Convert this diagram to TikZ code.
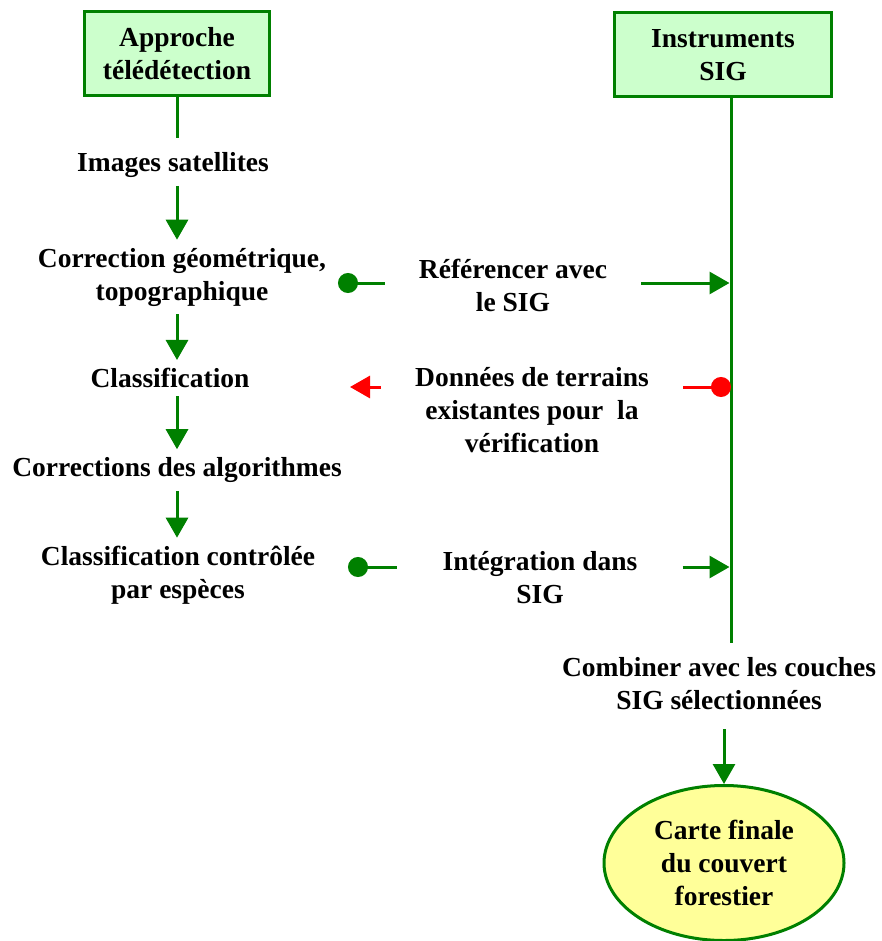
\documentclass[tikz,border=0pt]{standalone}
\usepackage{fontspec}
\setmainfont{Liberation Serif}
\usetikzlibrary{arrows.meta, positioning, shapes.geometric}
\definecolor{vert}{RGB}{0,128,0}
\definecolor{vertclair}{RGB}{204,255,204}
\definecolor{jaune}{RGB}{255,255,153}

\begin{document}
\begin{tikzpicture}[x=1pt,y=-1pt,
  every node/.style={font=\fontsize{27.5}{33}\selectfont\bfseries, align=center, inner sep=8pt},
  titre/.style={draw=vert, line width=3pt, fill=vertclair, minimum height=84pt},
  lien/.style={inner xsep=34pt},
  trait/.style={vert, line width=3pt},
  fleche/.style={trait, -{Triangle[length=20pt,width=22pt]}},
  point/.style={trait, {Circle[length=20pt]}-}]
  \useasboundingbox (0,0) rectangle (881,941);
  \node[titre, minimum width=185pt] (appr) at (177,54) {Approche\\télédétection};
  \node[titre, minimum width=217pt] (sig) at (723,55) {Instruments\\SIG};
  \coordinate (axe) at (731,0);
  \node (img) at (173,165) {Images satellites};
  \node (corr) at (182,277) {Correction géométrique,\\topographique};
  \node (class) at (170,378) {Classification};
  \node (algo) at (177,470) {Corrections des algorithmes};
  \node (ctrl) at (178,575) {Classification contrôlée\\par espèces};
  \node (comb) at (719,684) {Combiner avec les couches\\SIG sélectionnées};
  \node[ellipse, draw=vert, line width=3pt, fill=jaune, minimum width=240pt, minimum height=155pt, inner sep=0pt] (carte) at (724,863) {Carte finale\\du couvert\\forestier};
  \node[lien] (ref) at (513,285) {Référencer avec\\le SIG};
  \node[lien] (don) at (532,410) {Données de terrains\\existantes pour~ la\\vérification};
  \node[lien, inner xsep=45pt] (integ) at (540,578) {Intégration dans\\SIG};
  \draw[trait, shorten >=6pt] (appr.south) -- (img.north -| appr.south);
  \foreach \a/\b in {img/corr, corr/class, class/algo, algo/ctrl}
    \draw[fleche] (\a.south -| appr.south) -- (\b.north -| appr.south);
  \draw[trait, shorten >=7pt] (sig.south -| axe) -- (comb.north -| axe);
  \draw[fleche, shorten <=11pt] (comb.south -| carte.north) -- (carte.north);
  \coordinate (pref) at (338,283);
  \draw[point] (pref) -- (pref -| ref.west);
  \draw[fleche, shorten >=1.5pt] (pref -| ref.east) -- (pref -| axe);
  \coordinate (pdon) at (731,387);
  \coordinate (fdon) at (350,387);
  \draw[red, line width=3pt, {Circle[length=20pt]}-] (pdon) -- (pdon -| don.east);
  \draw[red, line width=3pt, -{Triangle[length=20pt,width=22pt]}] (pdon -| don.west) -- (fdon);
  \coordinate (pint) at (348,567);
  \draw[point] (pint) -- (pint -| integ.west);
  \draw[fleche, shorten >=1.5pt] (pint -| integ.east) -- (pint -| axe);
\end{tikzpicture}
\end{document}
